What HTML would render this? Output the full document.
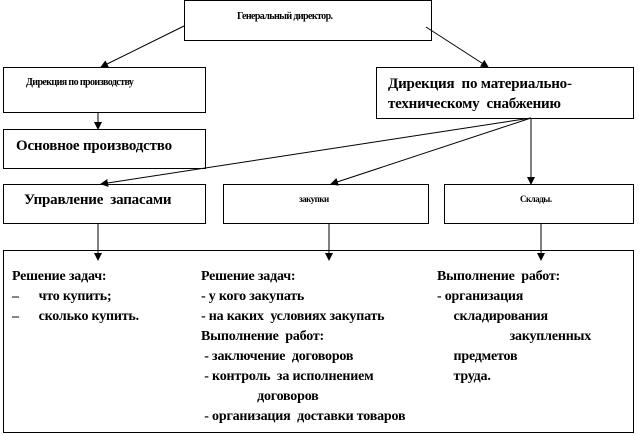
<!DOCTYPE html>
<html><head><meta charset="utf-8"><style>
body{margin:0;width:639px;height:435px;background:#fff;position:relative;overflow:hidden;color:#000}
.b{position:absolute;border:1px solid #000;box-sizing:border-box;background:#fff}
.t{position:absolute;white-space:nowrap;letter-spacing:-0.2px;font-family:"Liberation Serif","DejaVu Serif",serif;font-weight:bold}
svg{position:absolute;left:0;top:0}
</style></head><body>
<div class="b" style="left:184px;top:0;width:248px;height:41px"></div>
<div class="b" style="left:3px;top:67px;width:203px;height:46px"></div>
<div class="b" style="left:376px;top:67px;width:258px;height:52px"></div>
<div class="b" style="left:3px;top:129px;width:203px;height:40px"></div>
<div class="b" style="left:3px;top:184px;width:203px;height:40px"></div>
<div class="b" style="left:223px;top:184px;width:206px;height:40px"></div>
<div class="b" style="left:444px;top:184px;width:190px;height:40px"></div>
<div class="b" style="left:3px;top:250px;width:631px;height:183px"></div>
<svg width="639" height="435">
<defs><marker id="a" markerWidth="8" markerHeight="8" refX="7" refY="4" orient="auto" markerUnits="userSpaceOnUse"><path d="M0,0L8,4L0,8z" fill="#000"/></marker></defs>
<g stroke="#000" stroke-width="1" fill="none" marker-end="url(#a)">
<line x1="184" y1="26" x2="101" y2="67"/>
<line x1="426" y1="27" x2="488" y2="67"/>
<line x1="98" y1="113" x2="98" y2="129"/>
<line x1="531" y1="118" x2="101" y2="184"/>
<line x1="531" y1="118" x2="331" y2="184"/>
<line x1="531" y1="118" x2="531" y2="184"/>
<line x1="98" y1="224" x2="98" y2="260"/>
<line x1="329" y1="224" x2="329" y2="260"/>
<line x1="541" y1="224" x2="541" y2="260"/>
</g></svg>
<div class="t" style="left:237px;top:11px;font-size:10px;letter-spacing:-0.6px">Генеральный директор.</div>
<div class="t" style="left:26px;top:77px;font-size:10px;letter-spacing:-0.6px">Дирекция по производству</div>
<div class="t" style="left:388px;top:74px;font-size:15px;line-height:20px">Дирекция&nbsp; по материально-<br>техническому&nbsp; снабжению</div>
<div class="t" style="left:16px;top:138px;font-size:15px">Основное производство</div>
<div class="t" style="left:24px;top:192px;font-size:15px">Управление&nbsp; запасами</div>
<div class="t" style="left:299px;top:194px;font-size:9px;letter-spacing:-0.5px">закупки</div>
<div class="t" style="left:520px;top:194px;font-size:9px;letter-spacing:-0.5px">Склады.</div>
<div class="t" style="left:12px;top:267px;font-size:14px;line-height:20px">Решение задач:<br>–&nbsp;&nbsp;&nbsp;&nbsp;&nbsp; что купить;<br>–&nbsp;&nbsp;&nbsp;&nbsp;&nbsp; сколько купить.</div>
<div class="t" style="left:201px;top:267px;font-size:14px;line-height:20px">Решение задач:<br>- у кого закупать<br>- на каких&nbsp; условиях закупать<br>Выполнение&nbsp; работ:<br>&nbsp;- заключение&nbsp; договоров<br>&nbsp;- контроль&nbsp; за исполнением<br>&nbsp;&nbsp;&nbsp;&nbsp;&nbsp;&nbsp;&nbsp;&nbsp;&nbsp;&nbsp;&nbsp;&nbsp;&nbsp;&nbsp;&nbsp;&nbsp; договоров<br>&nbsp;- организация&nbsp; доставки товаров</div>
<div class="t" style="left:437px;top:267px;font-size:14px;line-height:20px">Выполнение&nbsp; работ:<br>- организация<br>&nbsp;&nbsp;&nbsp;&nbsp; складирования<br>&nbsp;&nbsp;&nbsp;&nbsp;&nbsp;&nbsp;&nbsp;&nbsp;&nbsp;&nbsp;&nbsp;&nbsp;&nbsp;&nbsp;&nbsp;&nbsp;&nbsp;&nbsp;&nbsp;&nbsp;&nbsp; закупленных<br>&nbsp;&nbsp;&nbsp;&nbsp; предметов<br>&nbsp;&nbsp;&nbsp;&nbsp; труда.</div>
</body></html>
